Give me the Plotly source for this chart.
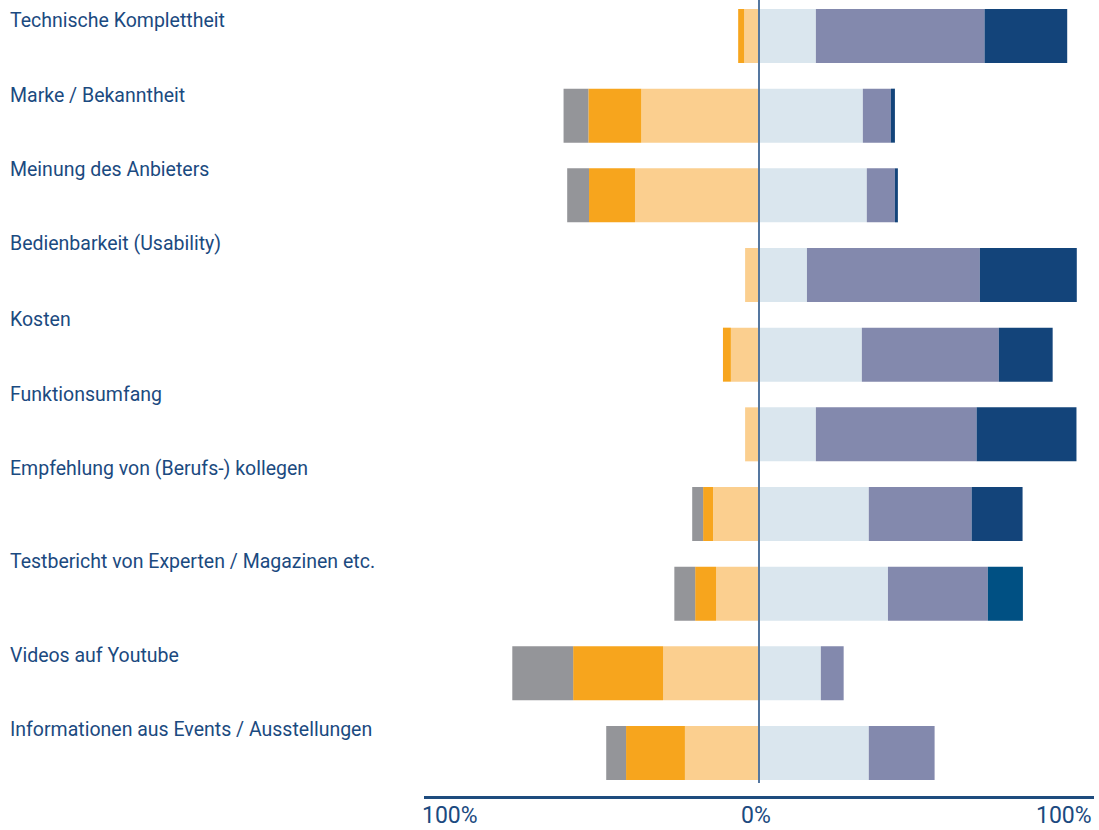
import plotly.graph_objects as go

# ---- data (percent of respondents) ----
categories = [
    "Technische Komplettheit",
    "Marke / Bekanntheit",
    "Meinung des Anbieters",
    "Bedienbarkeit (Usability)",
    "Kosten",
    "Funktionsumfang",
    "Empfehlung von (Berufs-) kollegen",
    "Testbericht von Experten / Magazinen etc.",
    "Videos auf Youtube",
    "Informationen aus Events / Ausstellungen",
]
neg_strong = [0, 7.5, 6.6, 0, 0, 0, 3.3, 6.3, 18.4, 6.0]
neg_mid = [1.8, 16.0, 13.9, 0, 2.4, 0, 3.0, 6.3, 27.2, 17.8]
neg_light = [4.5, 35.6, 37.5, 4.2, 8.5, 4.2, 13.9, 13.0, 29.0, 22.4]
pos_light = [17.2, 31.4, 32.6, 14.5, 31.1, 17.2, 33.2, 39.0, 18.7, 33.2]
pos_mid = [51.0, 8.5, 8.5, 52.3, 41.4, 48.6, 31.1, 30.2, 6.9, 19.9]
pos_strong = [25.0, 1.2, 0.9, 29.3, 16.3, 30.2, 15.4, 10.6, 0, 0]
axis_labels = ["100%", "0%", "100%"]

# ---- styles / layout ----
C_GRAY = "#949599"
C_ORANGE = "#F7A51D"
C_LORANGE = "#FBCF8F"
C_LBLUE = "#DAE6EE"
C_PURPLE = "#8389AD"
C_DARK = "#13447A"
C_DARK_ALT = "#005083"
TEXT = "#1b4a80"
FONT = "Roboto"

W, H = 1099, 830
ML, MR, MT, MB = 424, 5, 0, 34
XR = 101.3
# vertical pixel centers of the left-hand labels (layout)
label_px = [20.5, 96, 170, 243.5, 319.5, 394.5, 468.5, 561.5, 655.5, 729.5]

plot_h = H - MT - MB
plot_w = W - ML - MR

dark_colors = [C_DARK_ALT if c.startswith("Testbericht") else C_DARK for c in categories]

fig = go.Figure()
series = [
    (neg_light, C_LORANGE, -1),
    (neg_mid, C_ORANGE, -1),
    (neg_strong, C_GRAY, -1),
    (pos_light, C_LBLUE, 1),
    (pos_mid, C_PURPLE, 1),
    (pos_strong, dark_colors, 1),
]
for vals, col, sign in series:
    fig.add_trace(go.Bar(
        y=categories,
        x=[sign * v for v in vals],
        orientation="h",
        marker=dict(color=col, line=dict(width=0)),
        hoverinfo="skip",
        showlegend=False,
    ))

# zero line
fig.add_shape(type="line", xref="x", yref="paper", x0=0, x1=0,
              y0=(plot_h - 783) / plot_h, y1=1.0,
              line=dict(color="#5577a0", width=2), layer="above")

annotations = []
for cat, py in zip(categories, label_px):
    annotations.append(dict(
        text=cat, xref="paper", yref="paper",
        x=(8 - ML) / plot_w, y=(plot_h - py) / plot_h,
        xanchor="left", yanchor="middle", showarrow=False,
        font=dict(family=FONT, size=19.5, color=TEXT),
    ))
ax_y = (plot_h - 815.5) / plot_h
for txt, xv, anc, sh in zip(axis_labels, [-XR, 0, XR], ["left", "center", "right"], [-4, -3, 0]):
    annotations.append(dict(
        text=txt, xref="x", yref="paper", x=xv, y=ax_y, xshift=sh,
        xanchor=anc, yanchor="middle", showarrow=False,
        font=dict(family=FONT, size=23, color=TEXT),
    ))

n = len(categories)
px_per_cat = (753 - 36) / (n - 1)
top_val = -36 / px_per_cat
bot_val = (n - 1) + (plot_h - 753) / px_per_cat

fig.update_layout(
    width=W, height=H,
    margin=dict(l=ML, r=MR, t=MT, b=MB),
    paper_bgcolor="white", plot_bgcolor="white",
    barmode="relative", bargap=1 - 54 / px_per_cat,
    xaxis=dict(range=[-XR, XR], showgrid=False, zeroline=False,
               showticklabels=False, ticks="", showline=True,
               linecolor="#1e4c7e", linewidth=2.5, fixedrange=True),
    yaxis=dict(type="category", categoryorder="array", categoryarray=categories,
               range=[bot_val, top_val], showgrid=False, zeroline=False,
               showticklabels=False, ticks="", showline=False, fixedrange=True),
    annotations=annotations,
    font=dict(family=FONT, color=TEXT),
)

fig.write_html("out.html", config={"displayModeBar": False})
